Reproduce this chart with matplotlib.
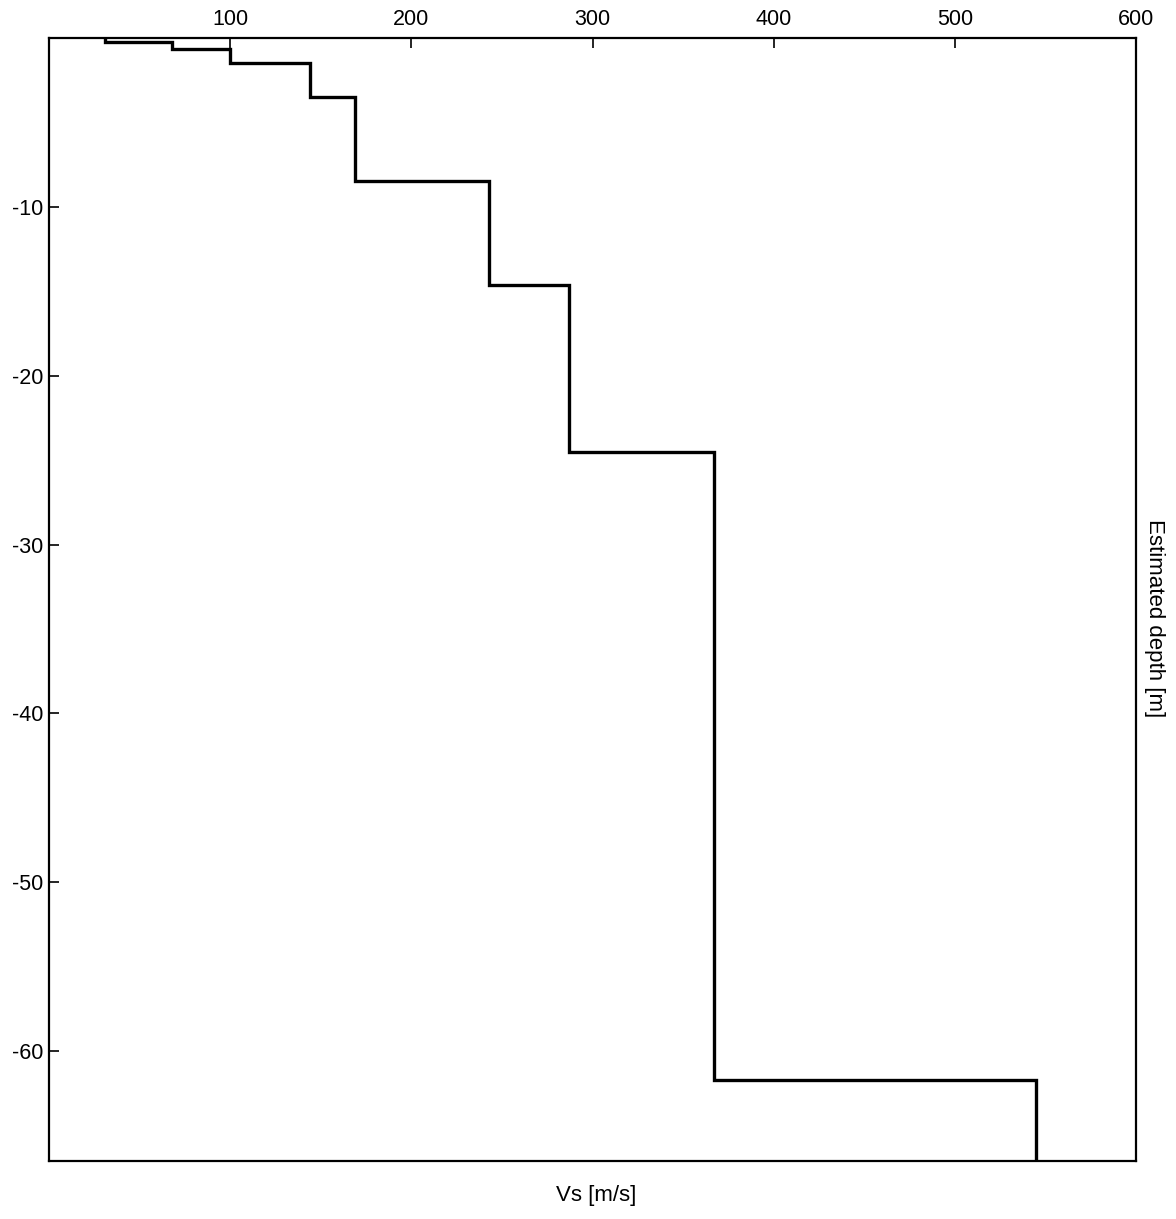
import numpy as np
import matplotlib
matplotlib.use("Agg")
import matplotlib.pyplot as plt

# layer shear-wave velocities [m/s] and layer bottoms [m]
vs = [31, 68, 100, 144, 169, 243, 287, 367, 545]
bottoms = [0.2, 0.63, 1.44, 3.5, 8.45, 14.6, 24.5, 61.7, 66.5]

x_ticks = [100, 200, 300, 400, 500, 600]
y_ticks = [-60, -50, -40, -30, -20, -10]

plt.rcParams['font.family'] = ['Liberation Sans Narrow', 'Liberation Sans', 'DejaVu Sans']

# build staircase profile
xs, ys = [], []
top = 0.0
for v, b in zip(vs, bottoms):
    xs += [v, v]
    ys += [-top, -b]
    top = b

fig = plt.figure(figsize=(11.76, 12.19), dpi=100)
ax = fig.add_axes([0.0417, 0.0478, 0.9243, 0.9208])
ax.plot(xs, ys, color='black', linewidth=2.4, solid_joinstyle='miter')

ax.set_xlim(0, 600)
ax.set_ylim(-66.5, 0)
ax.set_xticks(x_ticks)
ax.set_yticks(y_ticks)
ax.set_yticklabels([str(t) for t in y_ticks])
ax.xaxis.tick_top()
ax.tick_params(axis='both', direction='in', length=7, width=1.2, labelsize=15.5)
ax.tick_params(axis='x', pad=6)
ax.tick_params(axis='y', pad=4)
for s in ax.spines.values():
    s.set_linewidth(1.6)

fig.text(596 / 1176, 1 - 1196 / 1219, 'Vs [m/s]', ha='center', va='center', fontsize=16)
fig.text(1155 / 1176, 1 - 618 / 1219, 'Estimated depth [m]', ha='center', va='center',
         rotation=-90, fontsize=16)

fig.savefig('out.png', dpi=100)
